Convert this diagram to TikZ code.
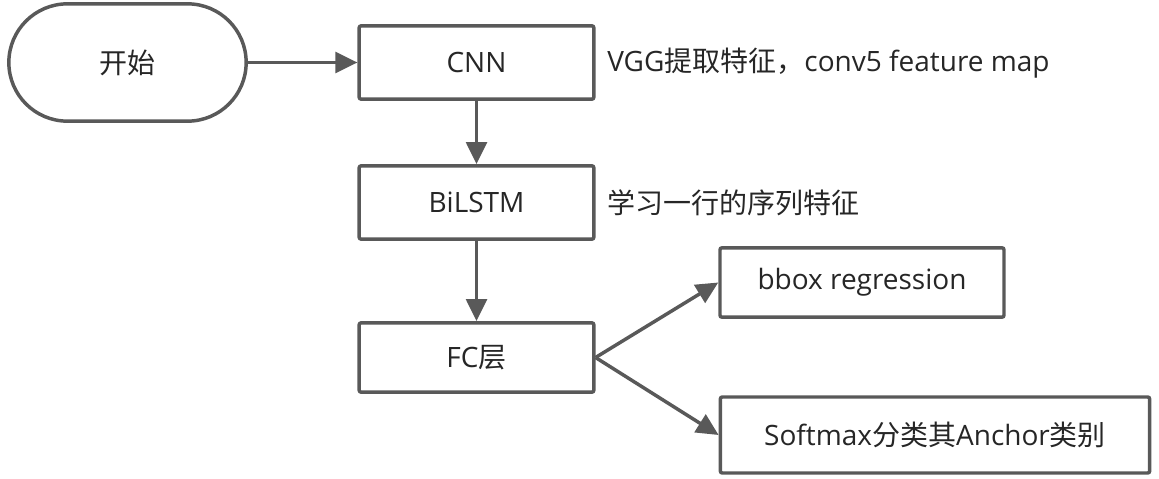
\documentclass[tikz,border=0pt]{standalone}
\usepackage{fontspec}
\setmainfont{Open Sans}
\newfontfamily\cjk{Noto Sans CJK SC}
\usetikzlibrary{arrows.meta}
\definecolor{linec}{HTML}{595959}
\definecolor{textc}{HTML}{262626}
\tikzset{
  boxnode/.style={draw=linec, line width=2.6pt, rounded corners=1.5pt, fill=white,
    text=textc, font=\fontsize{21pt}{25pt}\selectfont, inner sep=0pt, align=center},
  startnode/.style={boxnode, rounded corners=44pt},
  labelnode/.style={text=textc, font=\fontsize{21pt}{25pt}\selectfont, inner sep=0pt, anchor=west},
  conn/.style={draw=linec, line width=2.6pt, -{Triangle[length=16.5pt,width=15.5pt]}, shorten >=0pt}
}
\begin{document}
\begin{tikzpicture}[x=0.75pt,y=-0.75pt]
\useasboundingbox (0,0) rectangle (1159,478);
\node[startnode, minimum width=178pt, minimum height=88pt] (start) at (127.5,62.5) {\cjk 开始};
\node[boxnode, minimum width=176pt, minimum height=55pt] (cnn) at (476.5,62.5) {CNN};
\node[boxnode, minimum width=176pt, minimum height=55pt] (bilstm) at (476.5,202.5) {BiLSTM};
\node[boxnode, minimum width=176pt, minimum height=52pt] (fc) at (476.5,357.5) {FC{\cjk 层}};
\node[boxnode, minimum width=213pt, minimum height=52pt] (bbox) at (862,282.5) {bbox regression};
\node[boxnode, minimum width=322pt, minimum height=57pt] (soft) at (935,435) {Softmax{\cjk 分类其}Anchor{\cjk 类别}};
\node[labelnode] (lab1) at (607,63) {VGG{\cjk 提取特征，}conv5 feature map};
\node[labelnode] (lab2) at (607,203) {\cjk 学习一行的序列特征};
\draw[conn] (start.east) -- (cnn.west);
\draw[conn] (cnn.south) -- (bilstm.north);
\draw[conn] (bilstm.south) -- (fc.north);
\draw[conn] (fc.east) -- (bbox.west);
\draw[conn] (fc.east) -- (soft.west);
\end{tikzpicture}
\end{document}
